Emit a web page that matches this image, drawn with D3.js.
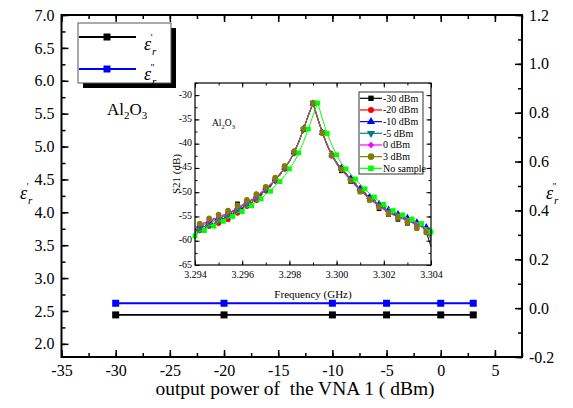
<!DOCTYPE html>
<html>
<head>
<meta charset="utf-8">
<script src="https://cdn.jsdelivr.net/npm/d3@7"></script>
<style>
  html, body { margin: 0; padding: 0; background: #fff; }
  svg, svg text { font-family: "Liberation Serif", "Times New Roman", serif; }
  svg { display: block; }
</style>
</head>
<body>
<div id="chart"></div>
<script>
// main plot: permittivity vs VNA output power
const powerLevels = [-30, -20, -10, -5, 0, 3];
const epsReal = [2.44, 2.44, 2.44, 2.44, 2.44, 2.44];
const epsImag = [0.02, 0.02, 0.02, 0.02, 0.02, 0.02];

const xTicks = [-35, -30, -25, -20, -15, -10, -5, 0, 5];
const leftTicks = [2.0, 2.5, 3.0, 3.5, 4.0, 4.5, 5.0, 5.5, 6.0, 6.5, 7.0];
const rightTicks = [-0.2, 0.0, 0.2, 0.4, 0.6, 0.8, 1.0, 1.2];

// inset: S21 around the resonance
const freqGHz = [3.2940, 3.2942, 3.2944, 3.2946, 3.2948, 3.2950, 3.2952, 3.2954, 3.2956, 3.2958,
  3.2960, 3.2962, 3.2964, 3.2966, 3.2968, 3.2970, 3.2972, 3.2974, 3.2976, 3.2978,
  3.2980, 3.2982, 3.2984, 3.2986, 3.2988, 3.2990, 3.2992, 3.2994, 3.2996, 3.2998,
  3.3000, 3.3002, 3.3004, 3.3006, 3.3008, 3.3010, 3.3012, 3.3014, 3.3016, 3.3018,
  3.3020, 3.3022, 3.3024, 3.3026, 3.3028, 3.3030, 3.3032, 3.3034, 3.3036, 3.3038, 3.3040];

const s21Minus30 = [-59.6,-57.0,-57.8,-55.9,-56.9,-55.1,-56.0,-54.2,-54.9,-52.4,-53.5,-52.0,-52.3,-50.8,-50.6,-49.1,-48.8,-47.2,-46.5,-44.8,
  -43.7,-41.9,-39.5,-37.1,-34.1,-31.7,-34.9,-37.7,-40.4,-42.5,-44.1,-45.6,-46.0,-47.8,-48.2,-49.9,-50.1,-51.6,-51.4,-53.4,
  -52.7,-54.6,-54.0,-55.6,-54.9,-56.4,-55.5,-57.4,-56.3,-58.2,-61.2];
const s21Minus20 = [-57.6,-57.9,-56.2,-57.0,-55.3,-56.4,-54.6,-55.6,-53.7,-54.3,-52.6,-52.9,-51.5,-51.7,-50.0,-49.7,-48.3,-47.7,-46.1,-45.2,
  -43.5,-41.9,-39.6,-37.0,-34.3,-31.6,-34.8,-37.9,-40.1,-42.4,-43.8,-45.3,-46.0,-47.5,-48.1,-49.6,-50.0,-51.3,-51.6,-52.9,
  -53.0,-54.2,-54.1,-55.0,-54.7,-55.9,-55.6,-56.7,-56.5,-57.6,-58.8];
const s21Minus10 = [-58.4,-56.9,-57.2,-56.0,-56.6,-55.2,-55.5,-54.3,-54.5,-53.2,-53.3,-52.0,-52.1,-50.8,-50.5,-49.1,-48.7,-47.3,-46.4,-44.9,
  -43.7,-41.7,-39.7,-36.9,-34.2,-31.7,-34.7,-37.8,-40.3,-42.2,-44.0,-45.0,-46.4,-47.1,-48.6,-49.2,-50.5,-50.9,-52.1,-52.4,
  -53.5,-53.6,-54.6,-54.5,-55.4,-55.3,-56.2,-56.2,-57.1,-57.2,-59.0];
const s21Minus5 = [-57.8,-57.7,-56.7,-56.8,-55.9,-55.8,-55.0,-55.0,-54.0,-53.8,-52.8,-52.6,-51.6,-51.3,-50.2,-49.5,-48.4,-47.6,-46.2,-45.1,
  -43.5,-41.9,-39.5,-37.1,-34.1,-31.6,-34.9,-37.7,-40.2,-42.4,-43.8,-45.2,-46.1,-47.4,-48.3,-49.5,-50.2,-51.2,-51.8,-52.7,
  -53.2,-54.0,-54.3,-54.9,-55.1,-55.7,-55.9,-56.5,-56.8,-57.6,-59.8];
const s21Zero = [-57.2,-56.6,-56.3,-55.8,-55.6,-55.0,-54.8,-54.2,-53.9,-53.1,-52.7,-52.0,-51.5,-50.9,-50.1,-49.2,-48.4,-47.4,-46.4,-45.0,
  -43.7,-41.7,-39.7,-36.9,-34.3,-31.6,-34.9,-37.9,-40.4,-42.5,-44.1,-45.4,-46.5,-47.6,-48.7,-49.7,-50.6,-51.4,-52.2,-52.9,
  -53.6,-54.2,-54.7,-55.1,-55.5,-55.9,-56.3,-56.7,-57.2,-57.8,-59.2];
const s21Plus3 = [-59.8,-56.5,-58.2,-55.4,-57.3,-54.6,-56.1,-53.8,-55.1,-52.7,-53.9,-51.6,-52.4,-50.4,-50.9,-48.9,-49.0,-47.0,-46.6,-44.6,
  -43.8,-41.6,-39.7,-36.9,-34.3,-31.6,-34.7,-37.8,-40.2,-42.3,-43.9,-45.3,-46.1,-47.6,-48.0,-49.9,-50.0,-51.6,-51.5,-53.1,
  -52.6,-54.5,-53.7,-55.3,-54.2,-56.2,-55.0,-57.4,-55.9,-58.3,-59.5];
const s21NoSample = [-59.0,-58.0,-57.9,-56.8,-57.0,-55.9,-56.0,-55.3,-55.0,-54.2,-54.0,-53.0,-52.8,-51.9,-51.4,-50.4,-49.8,-48.6,-47.8,-46.6,
  -45.2,-43.8,-41.9,-39.6,-37.0,-34.2,-31.6,-34.9,-37.9,-40.3,-42.3,-44.0,-45.2,-46.3,-47.3,-48.4,-49.3,-50.3,-51.0,-51.9,
  -52.5,-53.3,-53.8,-54.5,-54.7,-55.4,-55.6,-56.3,-56.5,-57.6,-58.2];

const insetLabels = ["-30 dBm", "-20 dBm", "-10 dBm", "-5 dBm", "0 dBm", "3 dBm", "No sample"];
const insetXTicks = [3.294, 3.296, 3.298, 3.300, 3.302, 3.304];
const insetYTicks = [-65, -60, -55, -50, -45, -40, -35, -30];

// hyphen instead of the unicode minus d3 uses
const fmt = spec => { const f = d3.format(spec); return d => f(d).replace("\u2212", "-"); };

function drawChart() {
  const W = 573, H = 408;
  const svg = d3.select("#chart").append("svg").attr("width", W).attr("height", H);

  // ---------- main axes ----------
  const x = d3.scaleLinear().domain([-35, 7.5]).range([61.5, 522]);
  const yL = d3.scaleLinear().domain([1.8, 7.0]).range([357, 15]);
  const yR = d3.scaleLinear().domain([-0.2, 1.2]).range([357, 15]);
  const top = 15, bottom = 357, left = 61.5, right = 522;

  function styleAxis(g, size, sw) {
    g.attr("font-family", null).attr("font-size", null);
    g.select(".domain").remove();
    g.selectAll("line").attr("stroke", "#000").attr("stroke-width", sw);
    g.selectAll("text").attr("fill", "#000").style("font-size", size + "px");
  }

  const minorX = d3.range(-35, 7.6, 2.5);
  const minorL = d3.range(2.0, 7.01, 0.25);
  const minorR = d3.range(-0.2, 1.21, 0.1);

  function mainAxis(axis, tr) {
    svg.append("g").attr("transform", tr).call(axis).call(g => styleAxis(g, 16, 1.5));
  }
  // bottom
  mainAxis(d3.axisBottom(x).tickValues(minorX).tickFormat("").tickSizeInner(-4).tickSizeOuter(0), `translate(0,${bottom})`);
  mainAxis(d3.axisBottom(x).tickValues(xTicks).tickFormat(fmt("d")).tickSizeInner(-7).tickSizeOuter(0).tickPadding(8), `translate(0,${bottom})`);
  // top
  mainAxis(d3.axisTop(x).tickValues(minorX).tickFormat("").tickSizeInner(-4).tickSizeOuter(0), `translate(0,${top})`);
  mainAxis(d3.axisTop(x).tickValues(xTicks).tickFormat("").tickSizeInner(-7).tickSizeOuter(0), `translate(0,${top})`);
  // left
  mainAxis(d3.axisLeft(yL).tickValues(minorL).tickFormat("").tickSizeInner(-4).tickSizeOuter(0), `translate(${left},0)`);
  mainAxis(d3.axisLeft(yL).tickValues(leftTicks).tickFormat(fmt(".1f")).tickSizeInner(-7).tickSizeOuter(0).tickPadding(7), `translate(${left},0)`);
  // right
  mainAxis(d3.axisRight(yR).tickValues(minorR).tickFormat("").tickSizeInner(-4).tickSizeOuter(0), `translate(${right},0)`);
  mainAxis(d3.axisRight(yR).tickValues(rightTicks).tickFormat(fmt(".1f")).tickSizeInner(-7).tickSizeOuter(0).tickPadding(7), `translate(${right},0)`);

  // frame
  svg.append("rect").attr("x", left).attr("y", top)
    .attr("width", right - left).attr("height", bottom - top)
    .attr("fill", "none").attr("stroke", "#000").attr("stroke-width", 2);

  // ---------- main series ----------
  const mainSeries = [
    { vals: epsReal, y: yL, color: "#000" },
    { vals: epsImag, y: yR, color: "#0000ff" }
  ];
  mainSeries.forEach(s => {
    const pts = powerLevels.map((p, i) => [p, s.vals[i]]);
    svg.append("path").datum(pts)
      .attr("d", d3.line().x(d => x(d[0])).y(d => s.y(d[1])))
      .attr("fill", "none").attr("stroke", s.color).attr("stroke-width", 1.8);
    svg.selectAll(null).data(pts).enter().append("path")
      .attr("transform", d => `translate(${x(d[0])},${s.y(d[1])})`)
      .attr("d", d3.symbol(d3.symbolSquare, 49))
      .attr("fill", s.color);
  });

  // axis titles
  svg.append("text").attr("x", 295).attr("y", 395).attr("text-anchor", "middle")
    .style("font-size", "19.5px").style("white-space", "pre")
    .text("output power of  the VNA 1 ( dBm)");

  function epsLabel(xPos, yPos, primes, size) {
    const t = svg.append("text").attr("x", xPos).attr("y", yPos).style("font-size", size + "px");
    t.append("tspan").attr("font-style", "italic").text("ε");
    t.append("tspan").attr("font-style", "italic").style("font-size", size * 0.62 + "px")
      .attr("dx", 1).attr("dy", size * 0.3).text("r");
    t.append("tspan").style("font-size", size * 0.55 + "px")
      .attr("dx", -size * 0.32).attr("dy", -size * 0.78).text(primes);
  }
  epsLabel(20, 199, "'", 18);
  epsLabel(546, 199, "''", 18);

  // main legend with shadow
  svg.append("rect").attr("x", 83).attr("y", 28).attr("width", 93).attr("height", 60).attr("fill", "#000");
  svg.append("rect").attr("x", 78).attr("y", 23).attr("width", 93).attr("height", 60)
    .attr("fill", "#fff").attr("stroke", "#555").attr("stroke-width", 1);
  [{ c: "#000", ly: 37, ty: 50, p: "'" }, { c: "#0000ff", ly: 69, ty: 80, p: "''" }].forEach(r => {
    svg.append("line").attr("x1", 79).attr("x2", 136).attr("y1", r.ly).attr("y2", r.ly)
      .attr("stroke", r.c).attr("stroke-width", 1.8);
    svg.append("path").attr("transform", `translate(107,${r.ly})`)
      .attr("d", d3.symbol(d3.symbolSquare, 49)).attr("fill", r.c);
    epsLabel(144, r.ty, r.p, 18);
  });

  const al = svg.append("text").attr("x", 107).attr("y", 115).style("font-size", "17px");
  al.append("tspan").text("Al");
  al.append("tspan").style("font-size", "11px").attr("dy", 4).text("2");
  al.append("tspan").attr("dy", -4).text("O");
  al.append("tspan").style("font-size", "11px").attr("dy", 4).text("3");

  // ---------- inset ----------
  const ix = d3.scaleLinear().domain([3.294, 3.304]).range([195, 431]);
  const iy = d3.scaleLinear().domain([-65, -27.5]).range([265, 83]);
  svg.append("rect").attr("x", 195).attr("y", 83).attr("width", 236).attr("height", 182).attr("fill", "#fff");

  const iMinorX = d3.range(3.294, 3.30401, 0.001);
  const iMinorY = d3.range(-65, -27.4, 2.5);
  function insetAxis(axis, tr) {
    return svg.append("g").attr("transform", tr).call(axis).call(g => styleAxis(g, 10, 1));
  }
  insetAxis(d3.axisBottom(ix).tickValues(iMinorX).tickFormat("").tickSizeInner(-2.5).tickSizeOuter(0), "translate(0,265)");
  insetAxis(d3.axisBottom(ix).tickValues(insetXTicks).tickFormat(fmt(".3f")).tickSizeInner(-4.5).tickSizeOuter(0).tickPadding(6), "translate(0,265)");
  insetAxis(d3.axisTop(ix).tickValues(iMinorX).tickFormat("").tickSizeInner(-2.5).tickSizeOuter(0), "translate(0,83)");
  insetAxis(d3.axisTop(ix).tickValues(insetXTicks).tickFormat("").tickSizeInner(-4.5).tickSizeOuter(0), "translate(0,83)");
  insetAxis(d3.axisLeft(iy).tickValues(iMinorY).tickFormat("").tickSizeInner(-2.5).tickSizeOuter(0), "translate(195,0)");
  insetAxis(d3.axisLeft(iy).tickValues(insetYTicks).tickFormat(fmt("d")).tickSizeInner(-4.5).tickSizeOuter(0).tickPadding(3), "translate(195,0)")
    .selectAll("text").attr("dy", "0.2em");
  insetAxis(d3.axisRight(iy).tickValues(iMinorY).tickFormat("").tickSizeInner(-2.5).tickSizeOuter(0), "translate(431,0)");
  insetAxis(d3.axisRight(iy).tickValues(insetYTicks).tickFormat("").tickSizeInner(-4.5).tickSizeOuter(0), "translate(431,0)");

  svg.append("text").attr("x", 313).attr("y", 298).attr("text-anchor", "middle").style("font-size", "11px")
    .text("Frequency (GHz)");
  svg.append("text").attr("transform", "translate(180,174) rotate(-90)").attr("text-anchor", "middle")
    .style("font-size", "11px").text("S21 (dB)");

  const ial = svg.append("text").attr("x", 212).attr("y", 126).style("font-size", "9.5px");
  ial.append("tspan").text("Al");
  ial.append("tspan").style("font-size", "6.5px").attr("dy", 2.5).text("2");
  ial.append("tspan").attr("dy", -2.5).text("O");
  ial.append("tspan").style("font-size", "6.5px").attr("dy", 2.5).text("3");

  const insetSeries = [
    { vals: s21Minus30, color: "#000000", sym: d3.symbolSquare, size: 22, rot: 0, phase: 1 },
    { vals: s21Minus20, color: "#ff0000", sym: d3.symbolCircle, size: 22, rot: 0, phase: 1 },
    { vals: s21Minus10, color: "#0000ff", sym: d3.symbolTriangle, size: 22, rot: 0, phase: 1 },
    { vals: s21Minus5, color: "#008080", sym: d3.symbolTriangle, size: 22, rot: 180, phase: 1 },
    { vals: s21Zero, color: "#ff00ff", sym: d3.symbolSquare, size: 16, rot: 45, phase: 1 },
    { vals: s21Plus3, color: "#808000", sym: d3.symbolCircle, size: 26, rot: 0, phase: 1 },
    { vals: s21NoSample, color: "#00ff00", sym: d3.symbolSquare, size: 24, rot: 0, phase: 0 }
  ];
  const iline = d3.line().x(d => ix(d[0])).y(d => iy(d[1]));
  insetSeries.forEach(s => {
    const pts = freqGHz.map((f, i) => [f, s.vals[i]]);
    svg.append("path").datum(pts).attr("d", iline)
      .attr("fill", "none").attr("stroke", s.color).attr("stroke-width", 1);
    svg.selectAll(null).data(pts.filter((d, i) => i % 2 === s.phase)).enter().append("path")
      .attr("transform", d => `translate(${ix(d[0])},${iy(d[1])}) rotate(${s.rot})`)
      .attr("d", d3.symbol(s.sym, s.size)).attr("fill", s.color);
  });

  svg.append("rect").attr("x", 195).attr("y", 83).attr("width", 236).attr("height", 182)
    .attr("fill", "none").attr("stroke", "#000").attr("stroke-width", 1.2);

  // inset legend
  svg.append("rect").attr("x", 359).attr("y", 92).attr("width", 64).attr("height", 82)
    .attr("fill", "#fff").attr("stroke", "#000").attr("stroke-width", 0.8);
  insetSeries.forEach((s, i) => {
    const ly = 98.3 + i * 11.67;
    svg.append("line").attr("x1", 360).attr("x2", 382).attr("y1", ly).attr("y2", ly)
      .attr("stroke", s.color).attr("stroke-width", 1.2);
    svg.append("path").attr("transform", `translate(371,${ly}) rotate(${s.rot})`)
      .attr("d", d3.symbol(s.sym, s.size * 1.3)).attr("fill", s.color);
    svg.append("text").attr("x", 383).attr("y", ly + 3.5).style("font-size", "10px").text(insetLabels[i]);
  });
}

document.addEventListener("DOMContentLoaded", drawChart);
</script>
</body>
</html>
